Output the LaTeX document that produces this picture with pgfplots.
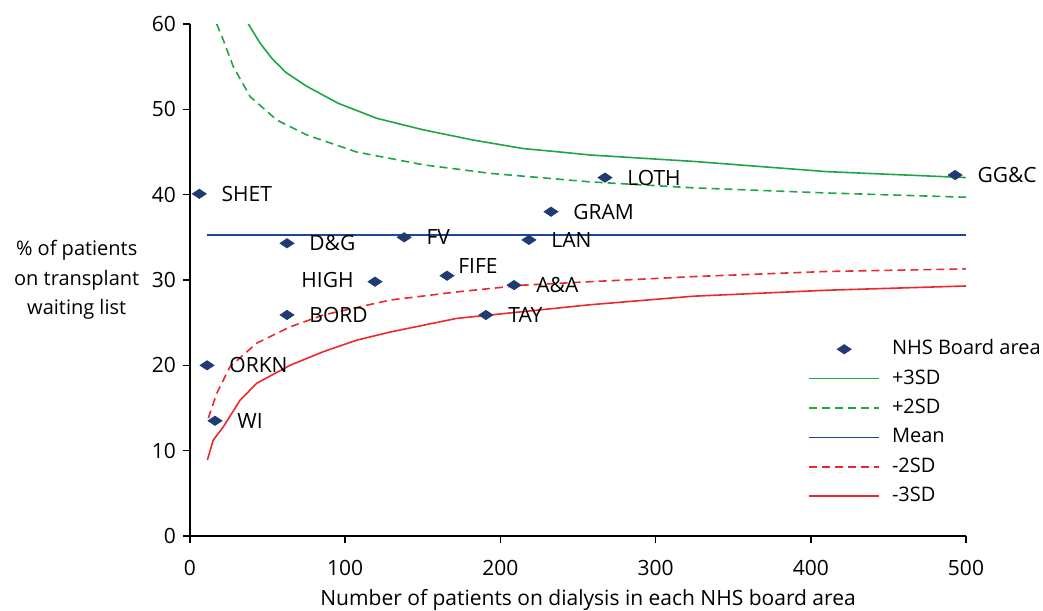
\documentclass[border=0pt]{standalone}
\usepackage{pgfplots}
\pgfplotsset{compat=1.18}
\usepackage{fontspec}
\setmainfont{Open Sans}
\definecolor{navy}{RGB}{31,59,112}
\definecolor{grn}{RGB}{30,165,70}
\definecolor{rd}{RGB}{235,40,45}
\definecolor{meanc}{RGB}{30,70,150}

\pgfplotsset{
  lineleg/.style={legend image code/.code={\draw[##1] (0pt,0pt) -- (35pt,0pt);}},
  markleg/.style={legend image code/.code={\draw[mark repeat=2, mark phase=2, ##1]
    plot coordinates {(0pt,0pt) (17.5pt,0pt) (35pt,0pt)};}},
  boardpt/.style={only marks, mark=diamond*, mark size=4.6pt,
    mark options={yscale=0.5, fill=navy, draw=navy}},
}

\begin{document}
\begin{tikzpicture}[font=\fontsize{10.5}{12.6}\selectfont]
\begin{axis}[
  scale only axis, width=388pt, height=256pt,
  xmin=0, xmax=500, ymin=0, ymax=60,
  axis x line*=bottom, axis y line*=left,
  xtick={0,100,...,500}, ytick={0,10,...,60},
  tick align=outside, major tick length=3.5pt,
  tick style={black, line width=0.75pt},
  axis line style={line width=0.75pt},
  /pgf/number format/assume math mode=true,
  ticklabel style={font=\fontsize{10.5}{12.6}\selectfont},
  xticklabel style={yshift=-5pt},
  clip=false,
  xlabel={Number of patients on dialysis in each NHS board area},
  xlabel style={at={(axis description cs:0.513,0)}, anchor=center, yshift=-32pt, inner sep=0pt},
  ylabel={\% of patients\\on transplant\\waiting list},
  ylabel style={rotate=-90, at={(axis description cs:-0.146,0.5)}, anchor=center,
    align=center, inner sep=0pt, font=\fontsize{10}{14.75}\selectfont},
  legend style={at={(axis description cs:0.7964,0.386)}, anchor=north west,
    draw=none, fill=none, inner sep=0pt, row sep=4.2pt, column sep=6pt,
    nodes={inner sep=0pt, text height=8pt, text depth=2.5pt},
    font=\fontsize{10}{12}\selectfont},
  legend cell align=left,
  every node near coord/.append style={inner sep=0pt, black, font=\fontsize{10.5}{12.6}\selectfont},
]

\addlegendimage{boardpt, markleg}
\addlegendentry{NHS Board area}

\addplot[grn, line width=0.8pt, lineleg] table {
x y
37.6 60.0
45 57.8
52.6 56.0
62 54.3
75.2 52.7
95.6 50.7
120.3 48.95
150.3 47.6
182.5 46.4
214.8 45.4
238.4 45.0
257.7 44.65
324.3 43.9
410.2 42.7
500 42.0
};
\addlegendentry{+3SD}

\addplot[grn, line width=0.8pt, dash pattern=on 4pt off 2.5pt, lineleg] table {
x y
17.2 60.0
21.5 58.1
27.9 55.0
38.7 51.5
55.9 48.75
75.2 47.0
107.4 45.0
150.3 43.5
193.3 42.5
238.4 41.8
257.7 41.5
324.3 40.8
410.2 40.2
500 39.7
};
\addlegendentry{+2SD}

\addplot[meanc, line width=0.8pt, lineleg] table {
x y
10.7 35.3
500 35.3
};
\addlegendentry{Mean}

\addplot[rd, line width=0.8pt, dash pattern=on 4pt off 2.5pt, lineleg] table {
x y
11.8 13.8
17.2 16.7
25.8 19.85
43.0 22.6
64.4 24.5
85.9 25.9
128.9 27.65
171.8 28.6
214.8 29.4
257.7 29.8
324.3 30.4
410.2 31.0
500 31.3
};
\addlegendentry{-2SD}

\addplot[rd, line width=0.8pt, lineleg] table {
x y
11.2 8.9
15.0 11.25
21.5 12.8
32.2 15.9
43.0 17.9
64.4 20.0
85.9 21.6
107.4 22.95
128.9 23.9
171.8 25.5
214.8 26.3
257.7 27.1
324.3 28.1
410.2 28.8
500 29.3
};
\addlegendentry{-3SD}

% board areas, drawn over the lines
\addplot[boardpt, forget plot, nodes near coords, point meta=explicit symbolic,
  every node near coord/.append style={anchor=west, xshift=11pt}]
  coordinates {
  (6,40.1) [SHET]
  (62.5,34.3) [D\&G]
  (138,35.0) [FV]
  (267.4,42.0) [LOTH]
  (232.6,38.0) [GRAM]
  (218.4,34.7) [LAN]
  (208.8,29.4) [A\&A]
  (62.5,25.9) [BORD]
  (190.7,25.9) [TAY]
  (11,20.0) [ORKN]
  (16.1,13.5) [WI]
  (493,42.3) [GG\&C]
  };
\addplot[boardpt, forget plot, nodes near coords, point meta=explicit symbolic,
  every node near coord/.append style={anchor=east, xshift=-10.5pt, yshift=1pt}]
  coordinates {(119.2,29.8) [HIGH]};
\addplot[boardpt, forget plot, nodes near coords, point meta=explicit symbolic,
  every node near coord/.append style={anchor=west, xshift=5.5pt, yshift=5pt}]
  coordinates {(165.6,30.5) [FIFE]};

\path (rel axis cs:0,0) ++(-95pt,-36.5pt) coordinate (bbsw)
      (rel axis cs:0,0) ++(426.5pt,268pt) coordinate (bbne);
\end{axis}
\path (bbsw) rectangle (bbne);
\end{tikzpicture}
\end{document}
